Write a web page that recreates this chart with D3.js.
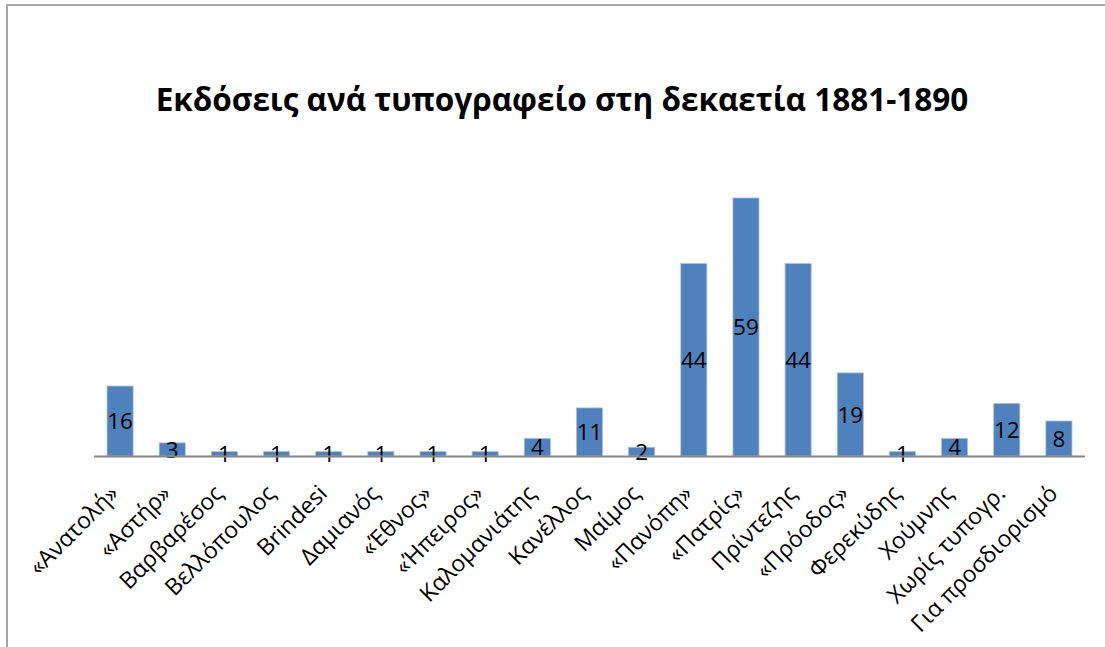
<!DOCTYPE html>
<html>
<head>
<meta charset="utf-8">
<script src="https://cdn.jsdelivr.net/npm/d3@7"></script>
<style>
  body { margin: 0; background: #fff; }
  text { font-family: "Open Sans", "Noto Sans", sans-serif; }
</style>
</head>
<body>
<svg id="chart"></svg>
<script>
// publications per printing house, 1881-1890
var categories = ['«Ανατολή»', '«Αστήρ»', 'Βαρβαρέσος', 'Βελλόπουλος', 'Brindesi', 'Δαμιανός',
  '«Έθνος»', '«Ήπειρος»', 'Καλομανιάτης', 'Κανέλλος', 'Μαίμος', '«Πανόπη»', '«Πατρίς»',
  'Πρίντεζης', '«Πρόοδος»', 'Φερεκύδης', 'Χούμνης', 'Χωρίς τυπογρ.', 'Για προσδιορισμό']
var values = [16, 3, 1, 1, 1, 1, 1, 1, 4, 11, 2, 44, 59, 44, 19, 1, 4, 12, 8]
var title = 'Εκδόσεις ανά τυπογραφείο στη δεκαετία 1881-1890'

var width = 1105
var height = 647
var plotLeft = 94, plotRight = 1085, baseline = 456, plotTop = 198

var svg = d3.select('#chart')
  .attr('width', width)
  .attr('height', height)

// chart frame (runs off the right and bottom of the picture)
svg.append('rect')
  .attr('x', 7).attr('y', 5)
  .attr('width', 1110).attr('height', 660)
  .attr('fill', 'none')
  .attr('stroke', '#a6a6a6')
  .attr('stroke-width', 2)

svg.append('text')
  .attr('x', 562).attr('y', 111)
  .attr('text-anchor', 'middle')
  .attr('font-size', 31.5)
  .attr('font-weight', 'bold')
  .text(title)

var x = d3.scaleBand()
  .domain(categories)
  .range([plotLeft, plotRight])
  .paddingInner(0.5)
  .paddingOuter(0.25)

var y = d3.scaleLinear()
  .domain([0, d3.max(values)])
  .range([baseline, plotTop])

var bars = svg.selectAll('.bar')
  .data(values)
  .enter()
  .append('g')
    .classed('bar', true)

bars.append('rect')
  .attr('x', (d, i) => x(categories[i]))
  .attr('y', d => y(d))
  .attr('width', x.bandwidth())
  .attr('height', d => baseline - y(d))
  .attr('fill', '#4f81bd')
  .attr('stroke', '#a7bfde')
  .attr('stroke-width', 0.8)

// axis line
svg.append('line')
  .attr('x1', plotLeft).attr('x2', plotRight)
  .attr('y1', baseline + 0.5).attr('y2', baseline + 0.5)
  .attr('stroke', '#868686')
  .attr('stroke-width', 2)

bars.append('text')
  .text(d => d)
  .attr('x', (d, i) => x(categories[i]) + x.bandwidth() / 2)
  .attr('y', d => (y(d) + baseline) / 2)
  .attr('dy', '0.36em')
  .attr('text-anchor', 'middle')
  .attr('font-size', 22.5)
  .attr('fill', '#000')

// rotated category labels
svg.selectAll('.cat')
  .data(categories)
  .enter()
  .append('text')
    .classed('cat', true)
    .attr('transform', d => 'translate(' + (x(d) + x.bandwidth() / 2) + ',' + (baseline + 39) + ') rotate(-45)')
    .attr('text-anchor', 'end')
    .attr('font-size', 23)
    .attr('fill', '#000')
    .text(d => d)
</script>
</body>
</html>
